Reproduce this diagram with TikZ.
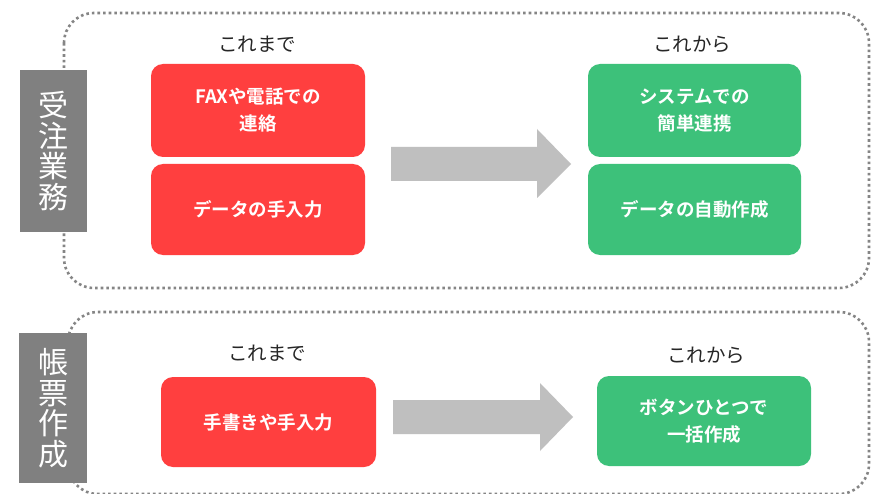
\documentclass[tikz,border=0pt]{standalone}
\usepackage{fontspec}
\setmainfont{Noto Sans CJK JP}
\newfontfamily\jpb{Noto Sans CJK JP}[BoldFont={* Bold}]
\begin{document}
\begin{tikzpicture}[x=1pt,y=-1pt,
  frame/.style={draw=black!48, line width=2.6pt, dash pattern=on 2.6pt off 3pt, rounded corners=30pt},
  label/.style={fill=black!50, text=white, font=\fontsize{30}{30.5}\selectfont, inner sep=0pt, align=center},
  oldbox/.style={fill=oldred, rounded corners=12pt, inner sep=0pt, text=white, font=\jpb\bfseries\fontsize{18.5}{27}\selectfont, align=center},
  newbox/.style={fill=newgreen, rounded corners=12pt, inner sep=0pt, text=white, font=\jpb\bfseries\fontsize{18.5}{27}\selectfont, align=center},
  head/.style={font=\fontsize{19.5}{22}\selectfont, text=black!85},
  bigarrow/.style={fill=arrowgray}
]
\definecolor{newgreen}{HTML}{3DC17A}
\definecolor{oldred}{HTML}{FF3F3F}
\definecolor{arrowgray}{HTML}{BFBFBF}
\useasboundingbox (0,0) rectangle (874,494);
\fill[white] (0,0) rectangle (874,494);
\begin{scope}
\clip (0,0) rectangle (874,494);
% frames
\draw[frame] (64,13) rectangle (869,288);
\draw[frame] (68,312) rectangle (869,494);
\end{scope}
% side labels
\node[label, minimum width=67pt, minimum height=162pt] (lab1) at (53,151) {受\\注\\業\\務};
\node[label, minimum width=68pt, minimum height=150pt] (lab2) at (53,408) {帳\\票\\作\\成};
% headers
\node[head] (h1) at (257,44) {これまで};
\node[head] (h2) at (692,44) {これから};
\node[head] (h3) at (267,353) {これまで};
\node[head] (h4) at (706,355) {これから};
% boxes
\node[oldbox, minimum width=214pt, minimum height=93pt] (r1) at (258,110.5) {FAXや電話での\\連絡};
\node[oldbox, minimum width=214pt, minimum height=91pt] (r2) at (258,209.5) {データの手入力};
\node[newbox, minimum width=213pt, minimum height=93pt] (g1) at (694.5,110.5) {システムでの\\簡単連携};
\node[newbox, minimum width=213pt, minimum height=91pt] (g2) at (694.5,209.5) {データの自動作成};
\node[oldbox, minimum width=215pt, minimum height=90pt] (r3) at (268.5,422) {手書きや手入力};
\node[newbox, minimum width=214pt, minimum height=90pt] (g3) at (704,421) {ボタンひとつで\\一括作成};
% arrows
\fill[bigarrow] (391,147) -- (537,147) -- (537,129) -- (571,164) -- (537,198) -- (537,181) -- (391,181) -- cycle;
\fill[bigarrow] (393,400) -- (540,400) -- (540,383) -- (573,417) -- (540,451) -- (540,434) -- (393,434) -- cycle;
\end{tikzpicture}
\end{document}
